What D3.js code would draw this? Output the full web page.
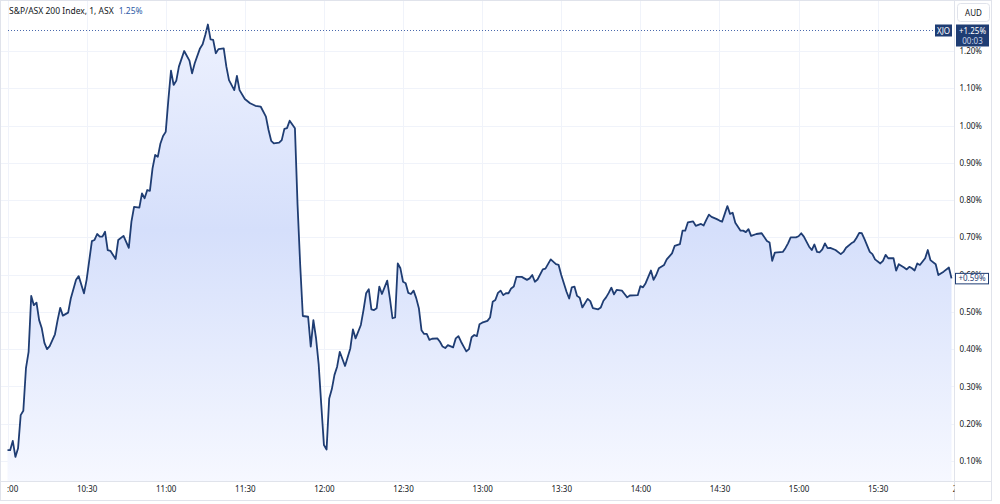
<!DOCTYPE html>
<html>
<head>
<meta charset="utf-8">
<script src="https://cdn.jsdelivr.net/npm/d3@7"></script>
<style>
html, body { margin: 0; padding: 0; background: #ffffff; }
svg { display: block; font-family: "Noto Sans", "Open Sans", sans-serif; }
</style>
</head>
<body>
<div id="chart"></div>
<script>
// minutes after the 10:00 open, and % change at that minute
var minutes = [0,1,2,3,4,5,6,7,8,9,10,11,12,13,14,15,16,18,19,20,21,23,24,26,27,29,30,32,33,34,35,36,37,38,39,41,42,44,46,47,48,50,51,52,53,54,55,56,57,58,59,60,61,62,63,64,65,67,69,70,71,73,74,75,76,77,78,79,80,82,83,84,86,87,88,90,92,94,96,98,99,100,101,103,104,105,106,107,109,110,111,112,114,115,116,117,118,119,120,121,122,123,124,125,126,128,130,131,132,134,135,136,137,138,139,140,141,142,144,145,146,147,148,149,150,151,152,153,154,155,156,157,158,159,160,161,163,164,165,166,167,169,170,171,172,173,174,175,176,177,178,179,180,182,183,184,185,186,187,188,189,190,191,192,193,195,197,198,199,200,201,203,204,206,208,209,210,212,213,214,215,216,217,218,220,221,222,224,225,226,227,228,229,230,231,233,234,235,236,239,240,241,242,244,245,246,247,249,250,252,253,255,256,257,258,260,261,263,264,265,266,267,269,270,271,272,273,274,275,276,278,279,280,281,282,284,286,288,289,290,291,294,295,296,297,299,300,301,302,304,305,306,307,308,309,310,311,312,314,316,317,318,320,321,322,323,324,325,327,328,329,331,332,333,334,336,337,338,340,341,342,343,344,345,346,348,349,350,352,353,355,357,358];
var values = [0.129,0.129,0.154,0.111,0.134,0.223,0.235,0.349,0.393,0.543,0.518,0.525,0.478,0.456,0.417,0.400,0.408,0.440,0.478,0.511,0.490,0.498,0.536,0.586,0.596,0.550,0.586,0.690,0.693,0.709,0.702,0.702,0.715,0.666,0.664,0.642,0.693,0.704,0.672,0.742,0.782,0.780,0.818,0.805,0.827,0.825,0.885,0.921,0.916,0.952,0.972,0.983,1.069,1.147,1.109,1.120,1.158,1.200,1.174,1.140,1.167,1.207,1.218,1.243,1.271,1.231,1.230,1.194,1.205,1.207,1.158,1.122,1.095,1.133,1.095,1.071,1.060,1.053,1.051,1.024,0.988,0.959,0.952,0.954,0.961,0.991,0.993,1.013,0.993,0.787,0.626,0.489,0.487,0.407,0.478,0.430,0.360,0.250,0.143,0.131,0.268,0.293,0.331,0.353,0.393,0.355,0.402,0.453,0.429,0.465,0.505,0.550,0.561,0.507,0.505,0.510,0.568,0.548,0.584,0.537,0.483,0.485,0.630,0.617,0.581,0.577,0.551,0.548,0.557,0.537,0.510,0.451,0.441,0.441,0.425,0.428,0.429,0.420,0.407,0.403,0.411,0.405,0.429,0.435,0.420,0.407,0.394,0.400,0.432,0.438,0.435,0.467,0.471,0.476,0.485,0.527,0.532,0.551,0.557,0.545,0.550,0.550,0.563,0.568,0.594,0.594,0.586,0.590,0.599,0.581,0.587,0.614,0.616,0.641,0.628,0.626,0.599,0.554,0.536,0.566,0.568,0.543,0.538,0.512,0.535,0.529,0.510,0.507,0.512,0.530,0.539,0.551,0.565,0.547,0.559,0.557,0.548,0.539,0.544,0.545,0.569,0.566,0.577,0.611,0.586,0.599,0.617,0.626,0.641,0.657,0.677,0.682,0.718,0.718,0.740,0.743,0.731,0.736,0.732,0.747,0.761,0.755,0.749,0.745,0.742,0.763,0.784,0.763,0.766,0.739,0.718,0.718,0.714,0.722,0.704,0.709,0.711,0.690,0.686,0.637,0.659,0.661,0.671,0.684,0.700,0.700,0.703,0.711,0.702,0.675,0.666,0.681,0.661,0.660,0.668,0.684,0.671,0.672,0.666,0.655,0.661,0.672,0.684,0.688,0.699,0.712,0.711,0.695,0.661,0.655,0.641,0.630,0.637,0.653,0.644,0.644,0.611,0.628,0.619,0.614,0.621,0.617,0.611,0.630,0.626,0.644,0.666,0.639,0.628,0.599,0.608,0.619,0.590];

var timeTicks = [0, 30, 60, 90, 120, 150, 180, 210, 240, 270, 300, 330, 360];
var timeLabels = ["10:00", "10:30", "11:00", "11:30", "12:00", "12:30", "13:00", "13:30", "14:00", "14:30", "15:00", "15:30", "21"];
var pctTicks = [0.1, 0.2, 0.3, 0.4, 0.5, 0.6, 0.7, 0.8, 0.9, 1.0, 1.1, 1.2];

var legendName = "S&P/ASX 200 Index, 1, ASX";
var legendValue = "1.25%";
var symbolName = "XJO";
var markerValue = 1.255;
var markerLabel = "+1.25%";
var countdown = "00:03";
var lastLabel = "+0.59%";
var currency = "AUD";

var width = 1000, height = 504;
var plotRight = 954.5, axisLine = 481.5, frameRight = 991.5, frameBottom = 500.5;
var navy = "#1f3d73";

var svg = d3.select("#chart").append("svg")
    .attr("width", width)
    .attr("height", height);

var x = d3.scaleLinear().domain([0, 360]).range([7.5, 956.8]);
var y = d3.scaleLinear().domain([0.1, 1.2]).range([461, 51]);

var data = minutes.map(function(m, i) { return { t: m, v: values[i] }; });

// fill gradient
var defs = svg.append("defs");
var grad = defs.append("linearGradient")
    .attr("id", "fill")
    .attr("gradientUnits", "userSpaceOnUse")
    .attr("x1", 0).attr("y1", 25).attr("x2", 0).attr("y2", axisLine);
grad.append("stop").attr("offset", 0).attr("stop-color", "#edf1fe");
grad.append("stop").attr("offset", 0.45).attr("stop-color", "#d5dffb");
grad.append("stop").attr("offset", 1).attr("stop-color", "#f6f8ff");

defs.append("clipPath").attr("id", "plot")
    .append("rect")
    .attr("x", 0).attr("y", 0)
    .attr("width", plotRight).attr("height", axisLine);

// grid
var grid = svg.append("g").attr("stroke", "#f0f3fa").attr("stroke-width", 1);
grid.selectAll("line.h").data(pctTicks).enter().append("line")
    .attr("x1", 0).attr("x2", plotRight)
    .attr("y1", function(d) { return Math.round(y(d)) + 0.5; })
    .attr("y2", function(d) { return Math.round(y(d)) + 0.5; });
grid.selectAll("line.v").data(timeTicks.slice(0, -1)).enter().append("line")
    .attr("y1", 0).attr("y2", axisLine)
    .attr("x1", function(d) { return Math.round(x(d)) + 0.5; })
    .attr("x2", function(d) { return Math.round(x(d)) + 0.5; });

// series
var plot = svg.append("g").attr("clip-path", "url(#plot)");
var area = d3.area()
    .x(function(d) { return x(d.t); })
    .y0(axisLine)
    .y1(function(d) { return y(d.v); });
var line = d3.line()
    .x(function(d) { return x(d.t); })
    .y(function(d) { return y(d.v); });

plot.append("path").datum(data)
    .attr("fill", "url(#fill)")
    .attr("d", area);
plot.append("path").datum(data)
    .attr("fill", "none")
    .attr("stroke", navy)
    .attr("stroke-width", 1.8)
    .attr("stroke-linejoin", "round")
    .attr("d", line);

// dotted marker line
svg.append("line")
    .attr("x1", 8).attr("x2", 935)
    .attr("y1", y(markerValue)).attr("y2", y(markerValue))
    .attr("stroke", "#4a69ad")
    .attr("stroke-width", 1)
    .attr("stroke-dasharray", "1,2");

// frame and axis separators
svg.append("line").attr("x1", plotRight).attr("x2", plotRight)
    .attr("y1", 0).attr("y2", frameBottom).attr("stroke", "#e0e3eb");
svg.append("line").attr("x1", 0).attr("x2", frameRight)
    .attr("y1", axisLine).attr("y2", axisLine).attr("stroke", "#e0e3eb");
svg.append("rect").attr("x", 0.5).attr("y", 0.5)
    .attr("width", frameRight - 0.5).attr("height", frameBottom - 0.5)
    .attr("fill", "none").attr("stroke", "#e0e3eb");

// right axis
var yAxis = d3.axisRight(y)
    .tickValues(pctTicks)
    .tickSize(0)
    .tickPadding(0)
    .tickFormat(function(d) { return d3.format(".2f")(d) + "%"; });
var gy = svg.append("g")
    .attr("transform", "translate(" + (plotRight + 5) + ",0)")
    .call(yAxis);
gy.select(".domain").remove();
gy.selectAll("text")
    .attr("fill", "#131722")
    .style("font-size", "8px")
    .style("font-family", "Noto Sans, sans-serif");

// bottom axis (first and last labels are cut by the panel edges)
var xAxis = d3.axisBottom(x)
    .tickValues(timeTicks)
    .tickSize(0)
    .tickPadding(0)
    .tickFormat(function(d, i) { return timeLabels[i]; });
defs.append("clipPath").attr("id", "xaxis")
    .append("rect").attr("x", 7).attr("y", axisLine)
    .attr("width", plotRight - 7).attr("height", 20);
var gx = svg.append("g").attr("clip-path", "url(#xaxis)")
    .append("g")
    .attr("transform", "translate(0," + (axisLine + 5) + ")")
    .call(xAxis);
gx.select(".domain").remove();
gx.selectAll("text")
    .attr("fill", "#131722")
    .style("font-size", "8px")
    .style("font-family", "Noto Sans, sans-serif");

// legend
var legend = svg.append("text")
    .attr("x", 9).attr("y", 14)
    .style("font-size", "8.5px")
    .attr("fill", "#131722");
legend.append("tspan").text(legendName);
legend.append("tspan").attr("dx", 5).attr("fill", "#2d5aa6").text(legendValue);

// currency box
svg.append("rect")
    .attr("x", 957.5).attr("y", 3.5).attr("width", 32).attr("height", 18).attr("rx", 3)
    .attr("fill", "#ffffff").attr("stroke", "#e0e3eb");
svg.append("text")
    .attr("x", 973.5).attr("y", 15.5)
    .attr("text-anchor", "middle")
    .style("font-size", "8px")
    .attr("fill", "#131722")
    .text(currency);

// symbol tag + price label
var my = y(markerValue);
svg.append("rect")
    .attr("x", 935).attr("y", my - 6).attr("width", 17).attr("height", 12)
    .attr("fill", navy);
svg.append("text")
    .attr("x", 943.5).attr("y", my + 3)
    .attr("text-anchor", "middle")
    .style("font-size", "8px")
    .attr("fill", "#ffffff")
    .text(symbolName);
svg.append("rect")
    .attr("x", 956).attr("y", my - 6).attr("width", 33).attr("height", 22)
    .attr("fill", navy);
svg.append("text")
    .attr("x", 972.5).attr("y", my + 3)
    .attr("text-anchor", "middle")
    .style("font-size", "8px")
    .attr("fill", "#ffffff")
    .text(markerLabel);
svg.append("text")
    .attr("x", 972.5).attr("y", my + 13)
    .attr("text-anchor", "middle")
    .style("font-size", "8px")
    .attr("fill", "#c9d3ea")
    .text(countdown);

// last value label
var last = data[data.length - 1];
var ly = y(last.v);
svg.append("rect")
    .attr("x", 955.5).attr("y", ly - 5).attr("width", 33).attr("height", 10.5)
    .attr("fill", "#ffffff").attr("stroke", navy).attr("stroke-width", 1);
svg.append("text")
    .attr("x", 972).attr("y", ly + 3)
    .attr("text-anchor", "middle")
    .style("font-size", "8px")
    .attr("fill", navy)
    .text(lastLabel);
</script>
</body>
</html>
